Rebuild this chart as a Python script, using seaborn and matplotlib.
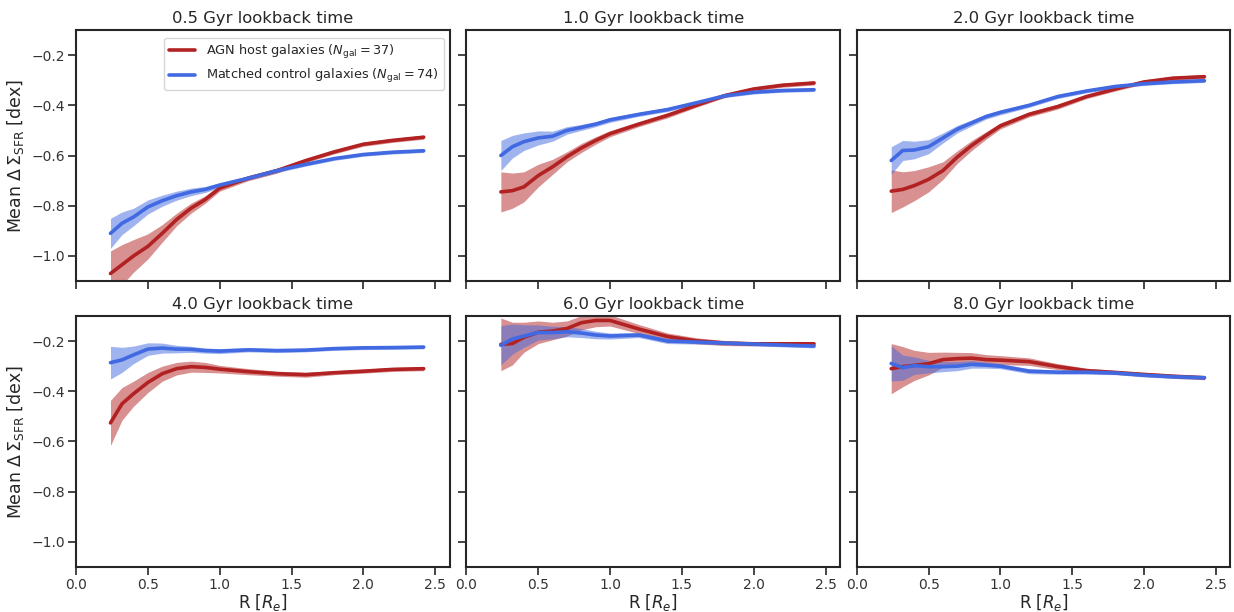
import numpy as np
import pandas as pd
import matplotlib
matplotlib.use("Agg")
import matplotlib.pyplot as plt
import seaborn as sns

# radius grid [R_e]
radius = [0.24, 0.32, 0.4, 0.5, 0.6, 0.7, 0.8, 0.9, 1.0, 1.2, 1.4, 1.6, 1.8, 2.0, 2.2, 2.42]
lookback = [0.5, 1.0, 2.0, 4.0, 6.0, 8.0]

# mean delta Sigma_SFR, AGN hosts
agn_05 = [-1.07, -1.035, -1.0, -0.962, -0.91, -0.855, -0.81, -0.775, -0.73, -0.69, -0.66, -0.62, -0.585, -0.555, -0.54, -0.527]
agn_10 = [-0.745, -0.74, -0.725, -0.68, -0.645, -0.605, -0.57, -0.54, -0.513, -0.475, -0.44, -0.40, -0.361, -0.335, -0.32, -0.311]
agn_20 = [-0.742, -0.735, -0.72, -0.695, -0.66, -0.606, -0.56, -0.52, -0.482, -0.436, -0.405, -0.365, -0.335, -0.307, -0.292, -0.286]
agn_40 = [-0.526, -0.45, -0.41, -0.365, -0.33, -0.31, -0.302, -0.305, -0.312, -0.322, -0.33, -0.334, -0.326, -0.32, -0.313, -0.31]
agn_60 = [-0.213, -0.21, -0.185, -0.165, -0.16, -0.15, -0.127, -0.118, -0.118, -0.152, -0.182, -0.199, -0.208, -0.211, -0.211, -0.211]
agn_80 = [-0.31, -0.302, -0.297, -0.29, -0.274, -0.27, -0.268, -0.274, -0.276, -0.282, -0.302, -0.318, -0.325, -0.333, -0.34, -0.346]

# mean delta Sigma_SFR, matched controls
ctl_05 = [-0.91, -0.87, -0.845, -0.805, -0.78, -0.76, -0.745, -0.735, -0.718, -0.69, -0.66, -0.635, -0.612, -0.596, -0.587, -0.581]
ctl_10 = [-0.60, -0.565, -0.545, -0.53, -0.523, -0.50, -0.488, -0.475, -0.458, -0.436, -0.417, -0.39, -0.362, -0.348, -0.341, -0.338]
ctl_20 = [-0.62, -0.58, -0.578, -0.565, -0.53, -0.495, -0.47, -0.445, -0.428, -0.40, -0.365, -0.343, -0.325, -0.314, -0.307, -0.302]
ctl_40 = [-0.286, -0.275, -0.255, -0.232, -0.228, -0.232, -0.233, -0.238, -0.24, -0.235, -0.238, -0.236, -0.23, -0.227, -0.226, -0.224]
ctl_60 = [-0.217, -0.192, -0.18, -0.166, -0.166, -0.163, -0.168, -0.176, -0.18, -0.176, -0.2, -0.204, -0.208, -0.212, -0.216, -0.22]
ctl_80 = [-0.289, -0.306, -0.298, -0.302, -0.302, -0.3, -0.293, -0.296, -0.3, -0.32, -0.324, -0.324, -0.327, -0.336, -0.342, -0.346]

# error on the mean (half width of band)
agn_err_05 = [0.09, 0.08, 0.065, 0.05, 0.035, 0.025, 0.02, 0.015, 0.012, 0.01, 0.01, 0.008, 0.008, 0.008, 0.008, 0.008]
agn_err_10 = [0.08, 0.07, 0.06, 0.045, 0.03, 0.02, 0.018, 0.015, 0.012, 0.01, 0.01, 0.008, 0.008, 0.008, 0.008, 0.008]
agn_err_20 = [0.085, 0.07, 0.06, 0.05, 0.035, 0.025, 0.02, 0.015, 0.012, 0.01, 0.01, 0.008, 0.008, 0.008, 0.008, 0.008]
agn_err_40 = [0.09, 0.065, 0.05, 0.04, 0.03, 0.025, 0.022, 0.02, 0.015, 0.012, 0.01, 0.01, 0.008, 0.008, 0.008, 0.008]
agn_err_60 = [0.105, 0.085, 0.06, 0.045, 0.035, 0.03, 0.028, 0.025, 0.022, 0.018, 0.014, 0.012, 0.01, 0.008, 0.008, 0.008]
agn_err_80 = [0.1, 0.08, 0.06, 0.045, 0.03, 0.025, 0.022, 0.02, 0.018, 0.015, 0.012, 0.01, 0.008, 0.008, 0.008, 0.008]

ctl_err_05 = [0.06, 0.045, 0.035, 0.028, 0.022, 0.018, 0.015, 0.012, 0.01, 0.008, 0.008, 0.007, 0.007, 0.007, 0.007, 0.007]
ctl_err_10 = [0.06, 0.045, 0.035, 0.028, 0.02, 0.015, 0.012, 0.01, 0.01, 0.008, 0.008, 0.007, 0.007, 0.007, 0.007, 0.007]
ctl_err_20 = [0.055, 0.04, 0.035, 0.028, 0.02, 0.015, 0.012, 0.01, 0.01, 0.008, 0.008, 0.007, 0.007, 0.007, 0.007, 0.007]
ctl_err_40 = [0.065, 0.05, 0.035, 0.025, 0.02, 0.015, 0.012, 0.01, 0.01, 0.008, 0.008, 0.007, 0.007, 0.007, 0.007, 0.007]
ctl_err_60 = [0.078, 0.06, 0.045, 0.03, 0.025, 0.02, 0.018, 0.015, 0.012, 0.01, 0.01, 0.008, 0.007, 0.007, 0.007, 0.007]
ctl_err_80 = [0.07, 0.05, 0.035, 0.025, 0.02, 0.018, 0.015, 0.012, 0.01, 0.01, 0.008, 0.008, 0.007, 0.007, 0.007, 0.007]

agn_means = [agn_05, agn_10, agn_20, agn_40, agn_60, agn_80]
ctl_means = [ctl_05, ctl_10, ctl_20, ctl_40, ctl_60, ctl_80]
agn_errs = [agn_err_05, agn_err_10, agn_err_20, agn_err_40, agn_err_60, agn_err_80]
ctl_errs = [ctl_err_05, ctl_err_10, ctl_err_20, ctl_err_40, ctl_err_60, ctl_err_80]

agn_label = r"AGN host galaxies ($N_{\rm gal}=37$)"
ctl_label = r"Matched control galaxies ($N_{\rm gal}=74$)"
colors = {agn_label: "firebrick", ctl_label: "royalblue"}

sns.set_theme(style="ticks")
plt.rcParams["font.family"] = ["DejaVu Sans"]

fig, axes = plt.subplots(2, 3, figsize=(12.34, 6.12), dpi=100, sharex=True, sharey=True)
fig.subplots_adjust(left=0.0616, right=0.997, top=0.951, bottom=0.0735, wspace=0.045, hspace=0.139)

for i, ax in enumerate(axes.flat):
    rows = []
    for lab, means, errs in [(agn_label, agn_means[i], agn_errs[i]), (ctl_label, ctl_means[i], ctl_errs[i])]:
        m = np.array(means)
        e = np.array(errs)
        ax.fill_between(radius, m - e, m + e, color=colors[lab], alpha=0.5, lw=0)
        for r, v in zip(radius, means):
            rows.append({"R": r, "val": v, "sample": lab})
    df = pd.DataFrame(rows)
    sns.lineplot(data=df, x="R", y="val", hue="sample", palette=colors, lw=2.6,
                 ax=ax, legend=(i == 0), errorbar=None)
    ax.set_title(f"{lookback[i]} Gyr lookback time", fontsize=11.8, pad=5)
    ax.set_xlim(0, 2.6)
    ax.set_ylim(-1.1, -0.1)
    ax.set_xticks([0, 0.5, 1.0, 1.5, 2.0, 2.5])
    ax.set_yticks([-1.0, -0.8, -0.6, -0.4, -0.2])
    ax.tick_params(labelsize=10, length=6, width=1.2, pad=2, colors="#262626", labelcolor="#333333")
    for s in ax.spines.values():
        s.set_linewidth(1.5)
    ax.set_xlabel(r"R [$R_e$]" if i >= 3 else "", fontsize=12, labelpad=0)
    ax.set_ylabel(r"Mean $\Delta\,\Sigma_{\rm SFR}$ [dex]" if i % 3 == 0 else "", fontsize=12.5)

leg = axes[0, 0].legend(loc="upper center", bbox_to_anchor=(0.61, 0.995), fontsize=9.3, title=None, frameon=True)
for line in leg.get_lines():
    line.set_linewidth(2.6)

fig.savefig("out.png", dpi=100)
